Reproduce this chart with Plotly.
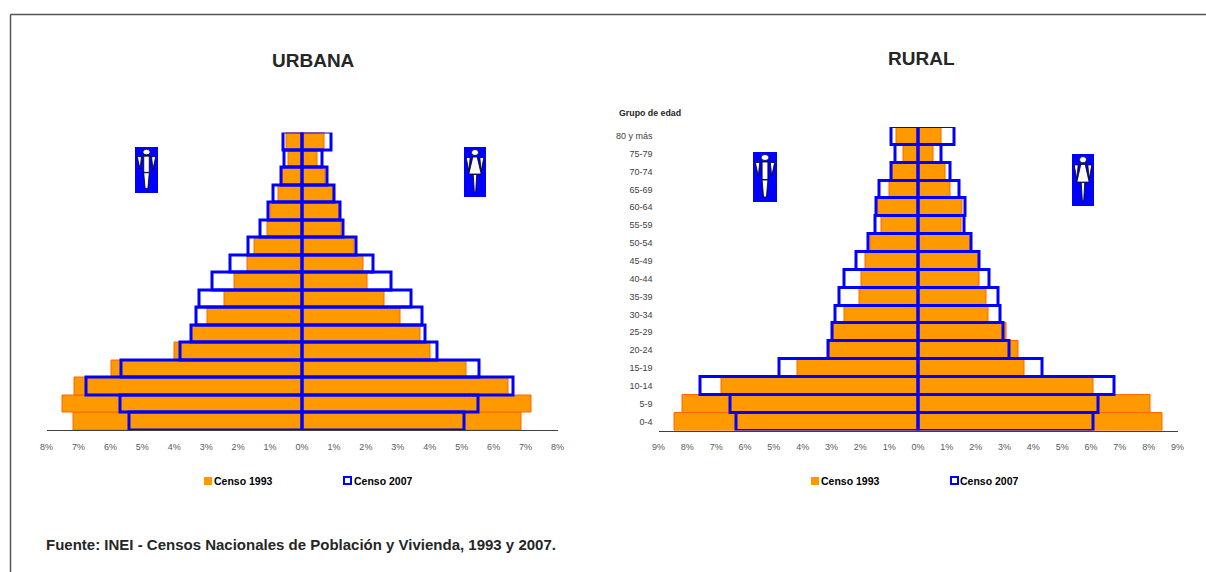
import plotly.graph_objects as go

W, H = 1206, 572
ages = ["0-4","5-9","10-14","15-19","20-24","25-29","30-34","35-39","40-44","45-49","50-54","55-59","60-64","65-69","70-74","75-79","80 y más"]

urb_m93 = [7.15,7.50,7.12,5.95,3.98,3.45,2.97,2.44,2.12,1.72,1.49,1.09,1.00,0.74,0.62,0.43,0.47]
urb_m07 = [5.39,5.68,6.75,5.65,3.81,3.46,3.30,3.21,2.81,2.24,1.67,1.30,1.05,0.88,0.65,0.54,0.58]
urb_f93 = [6.87,7.20,6.45,5.16,4.03,3.70,3.07,2.57,2.04,1.94,1.63,1.25,1.16,1.00,0.75,0.47,0.72]
urb_f07 = [5.09,5.52,6.63,5.55,4.24,3.88,3.76,3.42,2.79,2.23,1.72,1.29,1.22,1.03,0.81,0.63,0.91]

rur_m93 = [8.45,8.18,6.83,4.19,3.08,2.94,2.56,2.04,1.97,1.83,1.66,1.28,1.41,0.99,0.88,0.51,0.75]
rur_m07 = [6.30,6.51,7.53,4.81,3.11,2.97,2.86,2.74,2.55,2.15,1.70,1.48,1.44,1.33,0.93,0.78,0.91]
rur_f93 = [8.48,8.05,6.07,3.69,3.50,3.08,2.46,2.37,2.12,2.12,1.85,1.52,1.56,1.14,0.97,0.55,0.83]
rur_f07 = [6.07,6.27,6.82,4.31,3.18,2.97,2.86,2.80,2.49,2.14,1.87,1.61,1.63,1.45,1.11,0.83,1.25]

ORANGE, ORANGE_L, BLUE = "#FF9900", "#FF6600", "#0000FF"
FONT = "Liberation Sans"
TICK = "#595959"

fig = go.Figure()

def add_pyramid(xa, ya, m93, m07, f93, f07):
    for vals, sign in ((m93, -1), (f93, 1)):
        fig.add_trace(go.Bar(y=ages, x=[sign*v for v in vals], orientation="h", xaxis=xa, yaxis=ya,
                             marker=dict(color=ORANGE, line=dict(color=ORANGE_L, width=1)),
                             name="Censo 1993", showlegend=False))
    for vals, sign in ((m07, -1), (f07, 1)):
        fig.add_trace(go.Bar(y=ages, x=[sign*v for v in vals], orientation="h", xaxis=xa, yaxis=ya,
                             marker=dict(color="rgba(0,0,0,0)", line=dict(color=BLUE, width=3)),
                             name="Censo 2007", showlegend=False))

add_pyramid("x", "y", urb_m93, urb_m07, urb_f93, urb_f07)
add_pyramid("x2", "y2", rur_m93, rur_m07, rur_f93, rur_f07)

def px(x): return x / W
def py(y): return 1 - y / H

def xaxis(x0, x1, n):
    vals = list(range(-n, n + 1))
    return dict(domain=[px(x0), px(x1)], range=[-n, n], tickvals=vals,
                ticktext=[f"{abs(v)}%" for v in vals], showgrid=False, zeroline=False,
                showline=True, linecolor="#404040", linewidth=1, ticks="",
                tickfont=dict(family=FONT, size=9, color=TICK), ticklabelstandoff=8)

def yaxis(y0, y1, anchor, show):
    return dict(domain=[py(y1), py(y0)], anchor=anchor, categoryorder="array", categoryarray=ages,
                showgrid=False, zeroline=False, showline=False, ticks="", showticklabels=show,
                tickfont=dict(family=FONT, size=9, color="#404040"), ticklabelstandoff=5)

shapes, annots = [], []

def text(x, y, s, size, color="#262626", bold=True, anchor="center", family=FONT):
    annots.append(dict(xref="paper", yref="paper", x=px(x), y=py(y), text=f"<b>{s}</b>" if bold else s,
                       showarrow=False, xanchor=anchor, yanchor="middle",
                       font=dict(family=family, size=size, color=color)))

def rect(x0, y0, x1, y1, fill, line=None, lw=0):
    shapes.append(dict(type="rect", xref="paper", yref="paper", x0=px(x0), x1=px(x1), y0=py(y0), y1=py(y1),
                       fillcolor=fill, line=dict(color=line or fill, width=lw), layer="above"))

def poly(pts, fill="#FFFFFF"):
    d = "M" + " L".join(f"{px(a):.5f},{py(b):.5f}" for a, b in pts) + " Z"
    shapes.append(dict(type="path", xref="paper", yref="paper", path=d, fillcolor=fill,
                       line=dict(color="#000000", width=0.8), layer="above"))

def rule(x0, y0, x1, y1):
    shapes.append(dict(type="line", xref="paper", yref="paper", x0=px(x0), x1=px(x1), y0=py(y0), y1=py(y1),
                       line=dict(color="#555555", width=1.5), layer="above"))

def icon(x0, y0, x1, y1, female):
    rect(x0, y0, x1, y1, BLUE)
    w, h = x1 - x0, y1 - y0
    X = lambda t: x0 + w * t
    Y = lambda t: y0 + h * t
    shapes.append(dict(type="circle", xref="paper", yref="paper", x0=px(X(.34)), x1=px(X(.66)),
                       y0=py(Y(.17)), y1=py(Y(.05)), fillcolor="#FFFFFF",
                       line=dict(color="#000000", width=0.8), layer="above"))
    poly([(X(.10), Y(.21)), (X(.28), Y(.21)), (X(.22), Y(.48))])
    poly([(X(.72), Y(.21)), (X(.90), Y(.21)), (X(.78), Y(.48))])
    if female:
        poly([(X(.40), Y(.20)), (X(.60), Y(.20)), (X(.78), Y(.54)), (X(.22), Y(.54))])
        poly([(X(.42), Y(.55)), (X(.58), Y(.55)), (X(.53), Y(.90)), (X(.47), Y(.90))])
    else:
        poly([(X(.38), Y(.20)), (X(.62), Y(.20)), (X(.62), Y(.55)), (X(.38), Y(.55))])
        poly([(X(.38), Y(.56)), (X(.62), Y(.56)), (X(.56), Y(.90)), (X(.44), Y(.90))])

rule(10.5, 14.5, 1206, 14.5)
rule(10.5, 14.5, 10.5, 572)

text(313, 60, "URBANA", 19)
text(921, 59, "RURAL", 19)
text(649.5, 113, "Grupo de edad", 8.8)
text(44, 544, "Fuente: INEI - Censos Nacionales de Población y Vivienda, 1993 y 2007.", 15, anchor="left")

for sx, tx1, tx2, sx2 in ((204, 212, 352, 343), (811, 819, 958, 950)):
    rect(sx, 477, sx + 8, 485, ORANGE)
    text(tx1, 480.5, "Censo 1993", 10.5, "#000000", anchor="left")
    rect(sx2 + 1, 477, sx2 + 8, 484, "#FFFFFF", BLUE, 2)
    text(tx2, 480.5, "Censo 2007", 10.5, "#000000", anchor="left")

icon(135, 147, 158, 193, False)
icon(464, 147, 486, 197, True)
icon(753, 152, 777, 202, False)
icon(1072, 154, 1094, 206, True)

fig.update_layout(
    width=W, height=H, margin=dict(l=0, r=0, t=0, b=0, autoexpand=False),
    paper_bgcolor="#FFFFFF", plot_bgcolor="#FFFFFF",
    barmode="overlay", bargap=0, showlegend=False,
    xaxis=xaxis(46.5, 557.5, 8), yaxis=yaxis(132.5, 430, "x", False),
    xaxis2=xaxis(658.5, 1177.5, 9) | dict(anchor="y2"), yaxis2=yaxis(127, 430.5, "x2", True),
    shapes=shapes, annotations=annots,
)
fig.write_html("out.html", post_script="document.body.style.margin='0';", config={"displayModeBar": False})
